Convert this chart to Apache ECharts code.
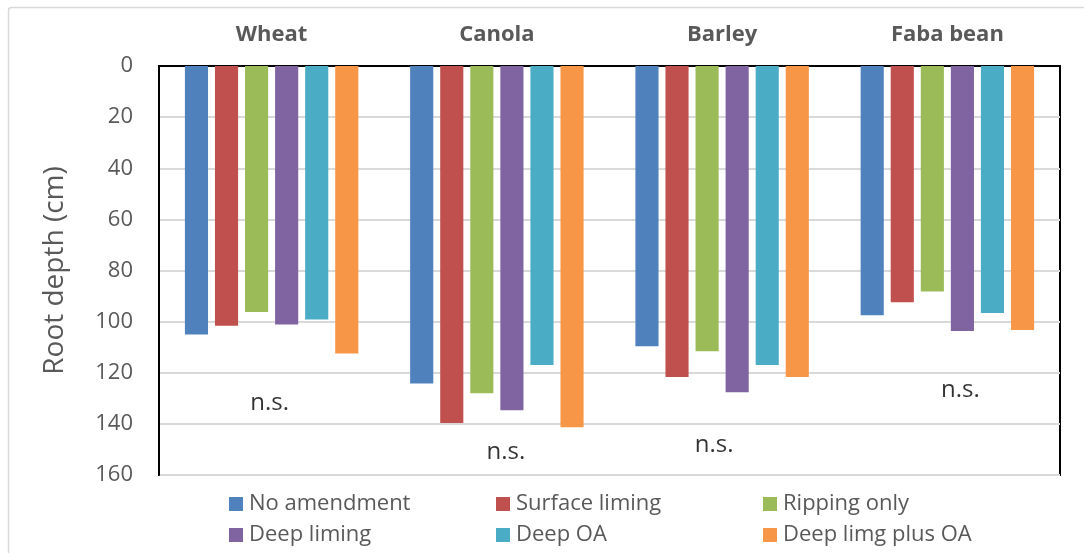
<!DOCTYPE html>
<html>
<head>
<meta charset="utf-8">
<script src="https://cdn.jsdelivr.net/npm/echarts@6/dist/echarts.min.js"></script>
<style>
  html, body { margin: 0; padding: 0; background: #fff; }
  #chart { width: 1084px; height: 553px; }
</style>
</head>
<body>
<div id="chart"></div>
<script>
// Crops (columns) and treatments (series)
const crops = ['Wheat', 'Canola', 'Barley', 'Faba bean'];
const treatments = ['No amendment', 'Surface liming', 'Ripping only', 'Deep liming', 'Deep OA', 'Deep limg plus OA'];
const colors = ['#4F81BD', '#C0504D', '#9BBB59', '#8064A2', '#4BACC6', '#F79646'];

// Root depth (cm) per treatment, in crop order
const noAmendment   = [105.0, 124.2, 109.6, 97.5];
const surfaceLiming = [101.6, 139.7, 121.7, 92.4];
const rippingOnly   = [96.2, 128.0, 111.6, 88.2];
const deepLiming    = [101.1, 134.7, 127.6, 103.7];
const deepOA        = [99.2, 117.0, 117.0, 96.6];
const deepLimingOA  = [112.5, 141.3, 121.7, 103.3];
const seriesValues = [noAmendment, surfaceLiming, rippingOnly, deepLiming, deepOA, deepLimingOA];

// Significance notes placed under each crop group (depth where the note sits)
const sigText = ['n.s.', 'n.s.', 'n.s.', 'n.s.'];
const sigDepth = [132, 151, 148.5, 127];

const depthTicks = [0, 20, 40, 60, 80, 100, 120, 140, 160];

const FONT = 'Open Sans';
const GREY = '#595959';

const chart = echarts.init(document.getElementById('chart'), null, { renderer: 'canvas' });

const barSeries = treatments.map((name, i) => ({
  name: name,
  type: 'bar',
  data: seriesValues[i],
  barGap: '30%',
  barCategoryGap: '23%',
  itemStyle: { color: colors[i] },
  emphasis: { disabled: true },
  z: 2
}));

const sigSeries = {
  name: 'sig',
  type: 'scatter',
  symbolSize: 0,
  silent: true,
  data: crops.map((c, i) => ({
    value: [c, sigDepth[i]],
    label: { offset: [[-2, 9, -8, 13][i], 0] }
  })),
  label: {
    show: true,
    position: 'inside',
    formatter: (p) => sigText[p.dataIndex],
    fontFamily: FONT,
    fontSize: 24,
    color: '#000'
  },
  z: 5
};

// One legend per column, two rows each
function columnLegend(names, left) {
  return {
    orient: 'vertical',
    left: left,
    top: 493,
    padding: 0,
    itemWidth: 14,
    itemHeight: 14,
    itemGap: 9,
    icon: 'rect',
    selectedMode: false,
    data: names,
    textStyle: { fontFamily: FONT, fontSize: 22, lineHeight: 22, color: GREY, padding: [0, 0, 0, 1] }
  };
}

const option = {
  animation: false,
  backgroundColor: '#fff',
  graphic: [{
    type: 'rect',
    shape: { x: 8.5, y: 7.5, width: 1090, height: 560, r: 3 },
    style: { fill: null, stroke: '#d9d9d9', lineWidth: 1.5 },
    silent: true,
    z: -1
  }],
  grid: {
    left: 159, right: 24, top: 66, bottom: 78,
    show: true,
    borderColor: '#000',
    borderWidth: 2,
    backgroundColor: 'transparent'
  },
  legend: [
    columnLegend([treatments[0], treatments[3]], 229),
    columnLegend([treatments[1], treatments[4]], 496),
    columnLegend([treatments[2], treatments[5]], 763)
  ],
  xAxis: {
    type: 'category',
    position: 'top',
    data: crops,
    axisTick: { show: false },
    axisLine: { lineStyle: { color: '#000', width: 2 } },
    axisLabel: {
      fontFamily: FONT, fontSize: 22, fontWeight: 'bold', color: GREY, margin: 20
    }
  },
  yAxis: {
    type: 'value',
    inverse: true,
    min: 0,
    max: 160,
    interval: 20,
    name: 'Root depth (cm)',
    nameLocation: 'middle',
    nameGap: 90,
    nameRotate: 90,
    nameTextStyle: { fontFamily: FONT, fontSize: 28, color: GREY },
    axisLine: { show: true, lineStyle: { color: '#000', width: 2 } },
    axisTick: { show: false },
    axisLabel: {
      fontFamily: FONT, fontSize: 22, color: GREY, margin: 26,
      formatter: (v) => depthTicks.includes(v) ? String(v) : ''
    },
    splitLine: { lineStyle: { color: '#d9d9d9', width: 2 } }
  },
  series: [...barSeries, sigSeries]
};

chart.setOption(option);
</script>
</body>
</html>
